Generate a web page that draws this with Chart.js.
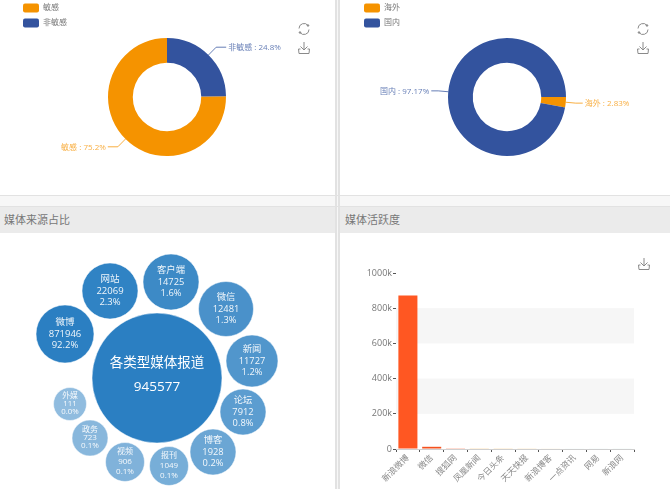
<!DOCTYPE html>
<html><head><meta charset="utf-8">
<script src="https://cdn.jsdelivr.net/npm/chart.js@4"></script>
<style>
html,body{margin:0;padding:0;width:670px;height:489px;overflow:hidden;background:#f7f7f7;font-family:"Open Sans","Noto Sans CJK SC",sans-serif}
body{filter:blur(.3px)}
.p{position:absolute;background:#fff;box-sizing:border-box;overflow:hidden}
.h{position:absolute;left:0;right:0;top:0;height:26px;line-height:26px;background:#ebebeb;color:#777;font-size:11px;padding-left:4px}
canvas{position:absolute;display:block}
svg{position:absolute;fill:none;stroke:#8a8a8a;stroke-width:1}
</style></head><body>
<div class="p" style="left:0;top:0;width:335px;height:195px"><canvas id="c1" width="335" height="195"></canvas></div>
<div class="p" style="left:338px;top:0;width:332px;height:195px"><canvas id="c2" width="332" height="195"></canvas></div>
<div class="p" style="left:0;top:207px;width:335px;height:282px"><div class="h">媒体来源占比</div><canvas id="c3" width="335" height="256" style="left:0;top:26px"></canvas></div>
<div class="p" style="left:338px;top:207px;width:332px;height:282px"><div class="h" style="padding-left:7px">媒体活跃度</div><canvas id="c4" width="332" height="256" style="left:0;top:26px"></canvas></div>
<div style="position:absolute;left:335px;top:0;width:1.5px;height:489px;background:#e2e2e2"></div>
<div style="position:absolute;left:338px;top:0;width:1.5px;height:489px;background:#e2e2e2"></div>
<div style="position:absolute;left:0;top:195px;width:670px;height:1px;background:#e2e2e2"></div>
<div style="position:absolute;left:0;top:206px;width:670px;height:1px;background:#e2e2e2"></div>
<script>
// ---- data ----
const sensLabels = ['敏感', '非敏感'];
const sensValues = [75.2, 24.8];
const originLabels = ['海外', '国内'];
const originValues = [2.83, 97.17];

const mediaTotalLabel = '各类型媒体报道';
const mediaTotal = 945577;
const mediaNames = ['微博','网站','客户端','微信','新闻','论坛','博客','报刊','视频','政务','外媒'];
const mediaCounts = [871946,22069,14725,12481,11727,7912,1928,1049,906,723,111];
const mediaShares = ['92.2%','2.3%','1.6%','1.3%','1.2%','0.8%','0.2%','0.1%','0.1%','0.1%','0.0%'];

const siteNames = ['新浪微博','微信','搜狐网','凤凰新闻','今日头条','天天快报','新浪博客','一点资讯','网易','新浪网'];
const siteCounts = [871946,12481,5200,4300,4100,3800,3500,2100,1900,1700];
const yTicks = [0,200000,400000,600000,800000,1000000];

// ---- presentation (bubble layout in panel units, colours) ----
const packX = [65,110,171,226,252,243,213,169,125,90,70];
const packY = [101,58,49,76,128,179,219,233,229,205,171];
const packR = [29,28,28,27.5,26,23,23,19.5,19.5,18,16.5];
const packC = ['#2b7fc2','#3083c4','#3d8ac6','#4a91ca','#5196cc','#5c9dd0','#6ba6d4','#77aed8','#80b2da','#88b7dc','#90bcdf'];
const packF = [9.5,9.5,9.3,9.3,9.3,9.3,9.3,8,8,8,7.8];
const packL = [11.5,11.5,11.5,11.5,11.5,11.5,11.5,10,10,8,8];
const hubX = 157, hubY = 145, hubR = 65;
const siteC = ['#ff5722','#f4511e','#ffab91','#ffcc80','#ffcc80','#ffcc80','#ffe0b2','#e0f2f1','#e0f2f1','#e0f2f1'];
const ORANGE = '#f59300', BLUE = '#33539e';
const FONT = '"Open Sans","Noto Sans CJK SC",sans-serif';
Chart.defaults.font.family = FONT;
Chart.defaults.animation = false;

function donutPlugin(swatchX, lenA, lenB){
  return {id:'donutDeco', afterDraw(chart){
    const ctx = chart.ctx, ds = chart.data.datasets[0], labels = chart.data.labels;
    ctx.save();
    labels.forEach((t,i)=>{
      const y = 8 + i*15;
      ctx.fillStyle = ds.backgroundColor[i];
      ctx.beginPath(); ctx.roundRect(swatchX, y-4.5, 16, 9, 2); ctx.fill();
      ctx.fillStyle = '#777'; ctx.font = '8px '+FONT; ctx.textAlign='left'; ctx.textBaseline='middle';
      ctx.fillText(t, swatchX+20, y);
      const a = chart.getDatasetMeta(0).data[i].getProps(['startAngle','endAngle','outerRadius','x','y'],true);
      const m = (a.startAngle+a.endAngle)/2, c = Math.cos(m), s = Math.sin(m), R = a.outerRadius;
      const x0=a.x+c*R, y0=a.y+s*R, x1=a.x+c*(R+lenA), y1=a.y+s*(R+lenA), dir=c>=0?1:-1, x2=x1+dir*lenB;
      const col = ds.backgroundColor[i];
      ctx.strokeStyle = col; ctx.globalAlpha=.75; ctx.lineWidth=1;
      ctx.beginPath(); ctx.moveTo(x0,y0); ctx.lineTo(x1,y1); ctx.lineTo(x2,y1); ctx.stroke();
      ctx.fillStyle = col; ctx.font='8px '+FONT; ctx.textAlign=dir>0?'left':'right';
      ctx.fillText(t+' : '+ds.data[i]+'%', x2+dir*2, y1+.5);
      ctx.globalAlpha=1;
    });
    ctx.restore();
  }};
}
function donut(id, labels, values, colors, rot, pad, swatchX, lenA, lenB){
  new Chart(document.getElementById(id),{type:'doughnut',
    data:{labels,datasets:[{data:values,backgroundColor:colors,borderWidth:0}]},
    options:{responsive:false,cutout:'58%',rotation:rot,layout:{padding:pad},
      plugins:{legend:{display:false},tooltip:{enabled:false}}},
    plugins:[donutPlugin(swatchX,lenA,lenB)]});
}
// first slice (sensitive) runs clockwise from the end of the 24.8% slice
donut('c1', sensLabels, sensValues, [ORANGE,BLUE], 89.28, {left:108,right:109,top:38,bottom:39}, 23, 11, 10);
donut('c2', originLabels, originValues, [ORANGE,BLUE], 90, {left:110,right:104,top:38,bottom:39}, 26, 10, 7);

new Chart(document.getElementById('c3'),{type:'bubble',
  data:{datasets:[
    {data:[{x:hubX,y:hubY,r:hubR}],backgroundColor:'#2b7fc2',borderColor:'rgba(255,255,255,.5)',borderWidth:1},
    {data:mediaNames.map((_,i)=>({x:packX[i],y:packY[i],r:packR[i]})),backgroundColor:packC,borderColor:'rgba(255,255,255,.5)',borderWidth:1}
  ]},
  options:{responsive:false,layout:{padding:0,autoPadding:false},clip:false,
    scales:{x:{display:false,min:0,max:335},y:{display:false,min:0,max:256,reverse:true}},
    plugins:{legend:{display:false},tooltip:{enabled:false}}},
  plugins:[{id:'bubbleText',afterDatasetsDraw(chart){
    const ctx=chart.ctx,sx=chart.scales.x,sy=chart.scales.y;
    ctx.save();ctx.textAlign='center';ctx.textBaseline='middle';ctx.fillStyle='#fff';
    const cx=sx.getPixelForValue(hubX),cy=sy.getPixelForValue(hubY);
    ctx.font='13.5px '+FONT;ctx.fillText(mediaTotalLabel,cx,cy-15);ctx.fillText(String(mediaTotal),cx,cy+9);
    mediaNames.forEach((n,i)=>{
      const x=sx.getPixelForValue(packX[i]),y=sy.getPixelForValue(packY[i]),l=packL[i];
      ctx.font=packF[i]+'px '+FONT;ctx.globalAlpha=.92;
      ctx.fillText(n,x,y-l);ctx.fillText(String(mediaCounts[i]),x,y);ctx.fillText(mediaShares[i],x,y+l);
    });
    ctx.restore();
  }}]});

new Chart(document.getElementById('c4'),{type:'bar',
  data:{labels:siteNames,datasets:[{data:siteCounts,backgroundColor:siteC,barPercentage:.8,categoryPercentage:1}]},
  options:{responsive:false,layout:{padding:{left:0,right:36,top:40,bottom:0}},
    scales:{
      x:{grid:{drawOnChartArea:false,offset:true,tickLength:3,color:'#555'},border:{display:true,color:'#cfcfcf'},
        afterFit(s){s.height=40;},
        ticks:{autoSkip:false,minRotation:45,maxRotation:45,color:'#888',font:{size:8.5},padding:1}},
      y:{min:0,max:1000000,grid:{drawOnChartArea:false,tickLength:3,color:'#555'},border:{display:false},
        afterFit(s){s.width=58;},
        afterBuildTicks(s){s.ticks=yTicks.map(v=>({value:v}));},
        ticks:{color:'#777',font:{size:9},padding:1,callback:v=>v===0?'0':(v/1000)+'k'}}
    },
    plugins:{legend:{display:false},tooltip:{enabled:false}}},
  plugins:[{id:'bands',beforeDatasetsDraw(chart){
    const ctx=chart.ctx,a=chart.chartArea,y=chart.scales.y;
    ctx.save();ctx.fillStyle='#f6f6f6';
    [[yTicks[1],yTicks[2]],[yTicks[3],yTicks[4]]].forEach(([p,q])=>{
      const t=y.getPixelForValue(q),b=y.getPixelForValue(p);ctx.fillRect(a.left,t,a.right-a.left,b-t);
    });
    ctx.restore();
  }}]});

function icon(x,y,refresh){
  const s=document.createElementNS('http://www.w3.org/2000/svg','svg');
  s.setAttribute('width','14');s.setAttribute('height','14');s.style.left=(x-7)+'px';s.style.top=(y-7)+'px';
  s.innerHTML=refresh
    ?'<path d="M2 6.5A5 5 0 0 1 11 3.5M12 7.5A5 5 0 0 1 3 10.5"/><circle cx="11" cy="3.5" r=".8" fill="#8a8a8a"/><circle cx="3" cy="10.5" r=".8" fill="#8a8a8a"/>'
    :'<path d="M7 1V9M3.5 5.5L7 9L10.5 5.5M3.5 8H1.5L2 12.5H12L12.5 8H10.5"/>';
  document.body.appendChild(s);
}
icon(304,29,true);icon(304,48,false);icon(643,29,true);icon(643,48,false);icon(644,264,false);
</script>
</body></html>
